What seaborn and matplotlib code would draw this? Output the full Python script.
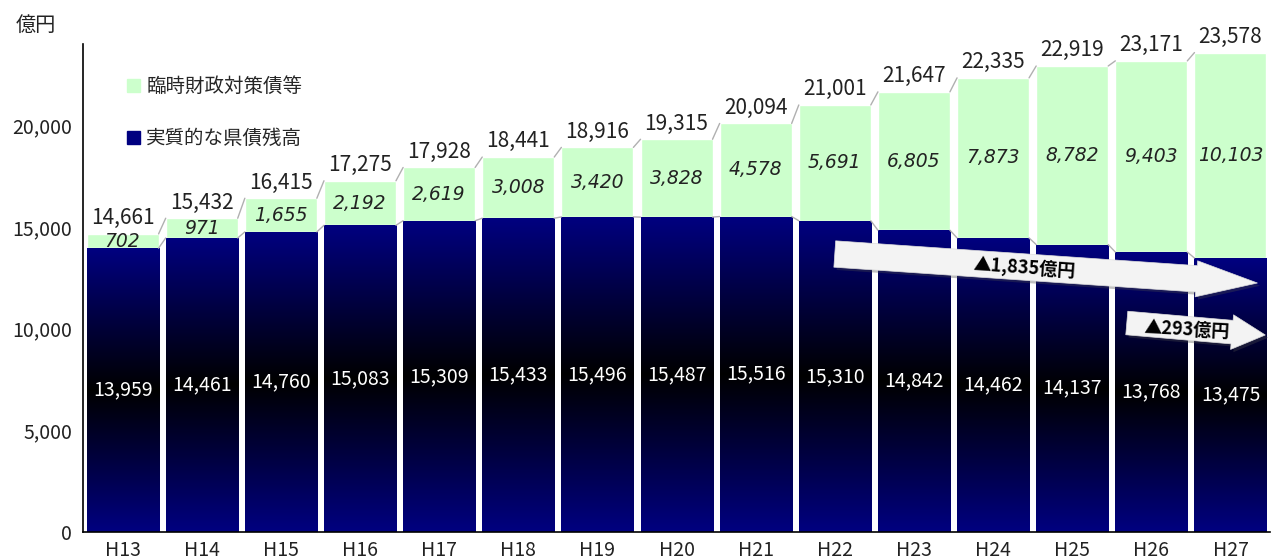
import numpy as np
import pandas as pd
import matplotlib
matplotlib.use('Agg')
import matplotlib.pyplot as plt
import seaborn as sns
from matplotlib.patches import Patch, FancyArrowPatch
from matplotlib.colors import LinearSegmentedColormap
import matplotlib.patheffects as pe

# data (億円)
years = ['H13', 'H14', 'H15', 'H16', 'H17', 'H18', 'H19', 'H20',
         'H21', 'H22', 'H23', 'H24', 'H25', 'H26', 'H27']
base_debt = [13959, 14461, 14760, 15083, 15309, 15433, 15496, 15487,
             15516, 15310, 14842, 14462, 14137, 13768, 13475]
special_debt = [702, 971, 1655, 2192, 2619, 3008, 3420, 3828,
                4578, 5691, 6805, 7873, 8782, 9403, 10103]
totals = [14661, 15432, 16415, 17275, 17928, 18441, 18916, 19315,
          20094, 21001, 21647, 22335, 22919, 23171, 23578]
y_ticks = [0, 5000, 10000, 15000, 20000]

df = pd.DataFrame({'year': years, 'base': base_debt,
                   'special': special_debt, 'total': totals})

sns.set_style('white')
plt.rcParams['font.family'] = ['Noto Sans CJK JP', 'DejaVu Sans']

navy = '#000080'
green = '#ccffcc'
bw = 0.91

fig = plt.figure(figsize=(12.75, 5.6), dpi=100)
ax = fig.add_axes([0.0651, 0.05, 0.931, 0.8714])

# total bar (green), then base part drawn over it
sns.barplot(data=df, x='year', y='total', color=green, width=bw,
            saturation=1, ax=ax)
sns.barplot(data=df, x='year', y='base', color=navy, width=bw,
            saturation=1, ax=ax)

# gradient fill on the navy bars: navy -> black (middle) -> navy
cmap = LinearSegmentedColormap.from_list('nv', [navy, '#000000', navy])
grad = np.linspace(0, 1, 256).reshape(-1, 1)
for p in ax.patches[len(years):]:
    x0, y0 = p.get_x(), p.get_y()
    w, h = p.get_width(), p.get_height()
    im = ax.imshow(grad, cmap=cmap, aspect='auto', origin='lower',
                   extent=[x0, x0 + w, y0, y0 + h], zorder=p.get_zorder() + 0.1)
    im.set_clip_path(p)
ax.set_xlim(-0.5, len(years) - 0.5)
ax.set_ylim(0, 24000)

# series lines between bars
for i in range(len(years) - 1):
    for vals in (totals, base_debt):
        ax.plot([i + bw / 2, i + 1 - bw / 2], [vals[i], vals[i + 1]],
                color='#b0b0b0', lw=1, zorder=3)

# labels
for i in range(len(years)):
    ax.text(i, totals[i] + 230, f'{totals[i]:,}', ha='center', va='bottom',
            fontsize=15, color='#222222')
    ax.text(i, base_debt[i] + special_debt[i] / 2, f'{special_debt[i]:,}',
            ha='center', va='center', fontsize=13.5, color='#222222',
            family='DejaVu Sans', style='italic')
    ax.text(i, base_debt[i] / 2, f'{base_debt[i]:,}', ha='center',
            va='center', fontsize=14, color='white', zorder=5)

# arrows
shadow = [pe.SimplePatchShadow(offset=(2, -2), alpha=0.35), pe.Normal()]
a1 = FancyArrowPatch((9.0, 13672), (14.34, 12246),
                     arrowstyle='simple,head_length=4.4,head_width=2.6,tail_width=1.9',
                     mutation_scale=10, shrinkA=0, shrinkB=0,
                     facecolor='#f3f3f3', edgecolor='#dddddd', lw=0.5, zorder=6)
a1.set_path_effects(shadow)
ax.add_patch(a1)
a2 = FancyArrowPatch((12.69, 10279), (14.44, 9689),
                     arrowstyle='simple,head_length=2.4,head_width=2.5,tail_width=1.7',
                     mutation_scale=10, shrinkA=0, shrinkB=0,
                     facecolor='#f3f3f3', edgecolor='#dddddd', lw=0.5, zorder=6)
a2.set_path_effects(shadow)
ax.add_patch(a2)
ax.text(11.4, 12984, '▲1,835億円', ha='center', va='center', fontsize=13,
        fontweight='bold', rotation=-3.9, color='black', zorder=7,
        family=['Noto Sans CJK JP', 'DejaVu Sans'])
ax.text(13.45, 9934, '▲293億円', ha='center', va='center', fontsize=13,
        fontweight='bold', rotation=-3, color='black', zorder=7,
        family=['Noto Sans CJK JP', 'DejaVu Sans'])

# axes styling
ax.set_yticks(y_ticks)
ax.set_yticklabels([f'{v:,}' for v in y_ticks], fontsize=14, color='#222222')
ax.set_xticks(range(len(years)))
ax.set_xticklabels(years, fontsize=14, color='#222222')
ax.tick_params(axis='both', length=0, pad=8)
ax.tick_params(axis='x', pad=6)
ax.set_xlabel('')
ax.set_ylabel('')
for s in ['top', 'right']:
    ax.spines[s].set_visible(False)
for s in ['left', 'bottom']:
    ax.spines[s].set_color('black')
    ax.spines[s].set_linewidth(1.2)

handles = [Patch(color=green, label='臨時財政対策債等'),
           Patch(color=navy, label='実質的な県債残高')]
ax.legend(handles=handles, loc='upper left', bbox_to_anchor=(0.022, 0.97),
          frameon=False, fontsize=14, handlelength=0.7, handleheight=0.7,
          handletextpad=0.3, labelspacing=1.6)

fig.text(0.012, 0.955, '億円', fontsize=14.5, color='#222222', va='center')

fig.savefig('out.png', dpi=100)
